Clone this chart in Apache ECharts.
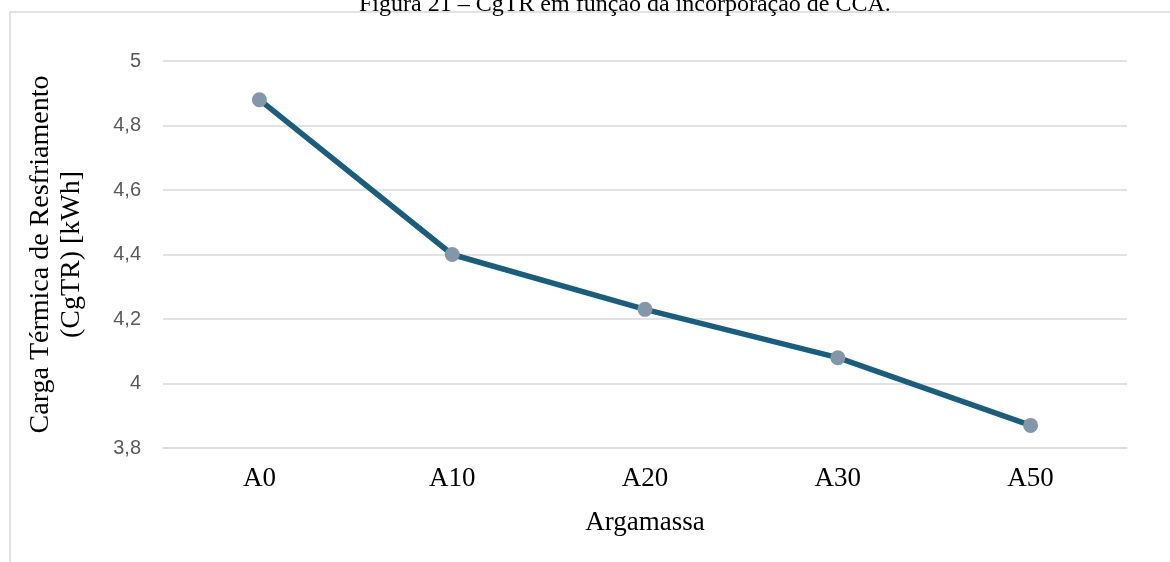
<!DOCTYPE html>
<html>
<head>
<meta charset="utf-8">
<script src="https://cdn.jsdelivr.net/npm/echarts@6/dist/echarts.min.js"></script>
<style>html,body{margin:0;padding:0;background:#fff}#c{width:1170px;height:562px}</style>
</head>
<body>
<div id="c"></div>
<script>
const categories = ['A0', 'A10', 'A20', 'A30', 'A50'];
const values = [4.88, 4.40, 4.23, 4.08, 3.87];
const titleText = 'Figura 21 – CgTR em função da incorporação de CCA.';
const yName = 'Carga Térmica de Resfriamento\n(CgTR) [kWh]';
const xName = 'Argamassa';

const chart = echarts.init(document.getElementById('c'));
chart.setOption({
  animation: false,
  backgroundColor: '#fff',
  title: {
    text: titleText, left: 354, top: -12,
    textStyle: {fontFamily: 'Liberation Serif', fontSize: 24, fontWeight: 'normal', color: '#000'}
  },
  graphic: [{
    type: 'rect', silent: true,
    shape: {x: 10, y: 12, width: 1300, height: 700},
    style: {fill: 'none', stroke: '#d9d9d9', lineWidth: 1.5}
  }],
  grid: {left: 163, right: 43, top: 61, bottom: 114},
  xAxis: {
    type: 'category', data: categories, boundaryGap: true,
    axisLine: {show: true, lineStyle: {color: '#d9d9d9', width: 1.5}},
    axisTick: {show: false},
    axisLabel: {fontFamily: 'Liberation Serif', fontSize: 27, color: '#000', margin: 17},
    name: xName, nameLocation: 'middle', nameGap: 61,
    nameTextStyle: {fontFamily: 'Liberation Serif', fontSize: 27, color: '#000'}
  },
  yAxis: {
    type: 'value', min: 3.8, max: 5, interval: 0.2,
    axisLine: {show: false}, axisTick: {show: false},
    splitLine: {lineStyle: {color: '#d9d9d9', width: 1.5}},
    axisLabel: {
      fontFamily: 'Liberation Sans', fontSize: 20, color: '#595959', margin: 22,
      formatter: v => String(Math.round(v * 10) / 10).replace('.', ',')
    },
    name: yName, nameLocation: 'middle', nameGap: 76, nameRotate: 90,
    nameTextStyle: {fontFamily: 'Liberation Serif', fontSize: 28, color: '#000', lineHeight: 31}
  },
  series: [{
    type: 'line', data: values,
    lineStyle: {color: '#1a5e7e', width: 5.5},
    symbol: 'circle', symbolSize: 15,
    itemStyle: {color: '#8497a9'}
  }]
});
</script>
</body>
</html>
